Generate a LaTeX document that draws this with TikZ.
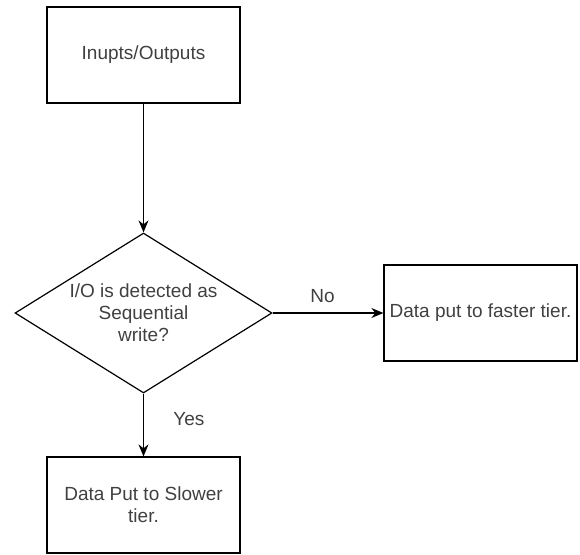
\documentclass[tikz,border=0pt]{standalone}
\usepackage{fontspec}
\setmainfont{Liberation Sans}
\usepackage{tikz}
\usetikzlibrary{shapes.geometric,arrows.meta,positioning}
\definecolor{textgray}{HTML}{404040}
\tikzset{
node distance=258pt, % vertical step from the input box to the decision
block/.style={draw, rectangle, minimum width=193pt, minimum height=96pt, align=center, text=textgray, line width=1.2pt},
decision/.style={draw, diamond, aspect=1.6, minimum width=257pt, minimum height=160pt, inner sep=0pt, align=center, text=textgray, line width=1.2pt},
flow/.style={line width=1.3pt, -{Stealth[length=12pt,width=10pt]}},
}

\begin{document}
\begin{tikzpicture}[on grid, font=\fontsize{19}{22}\selectfont]
   \useasboundingbox (0,0) rectangle (580pt,-554pt);
   \node[block] (io) at (143.5pt,-55pt) {Inupts/Outputs};
   \node[decision] (seq) [below=of io] {I/O is detected as\\Sequential\\write?};
   \node[block] (fast) [right=337pt of seq] {Data put to faster tier.};
   \node[block] (slow) [below=192pt of seq] {Data Put to Slower\\tier.};
   \draw[flow] (io) -- (seq);
   \draw[flow] (seq) -- node[above=6pt, pos=0.45, text=textgray] {No} (fast);
   \draw[flow] (seq) -- node[right=26pt, pos=0.4, text=textgray] {Yes} (slow);
\end{tikzpicture}
\end{document}
